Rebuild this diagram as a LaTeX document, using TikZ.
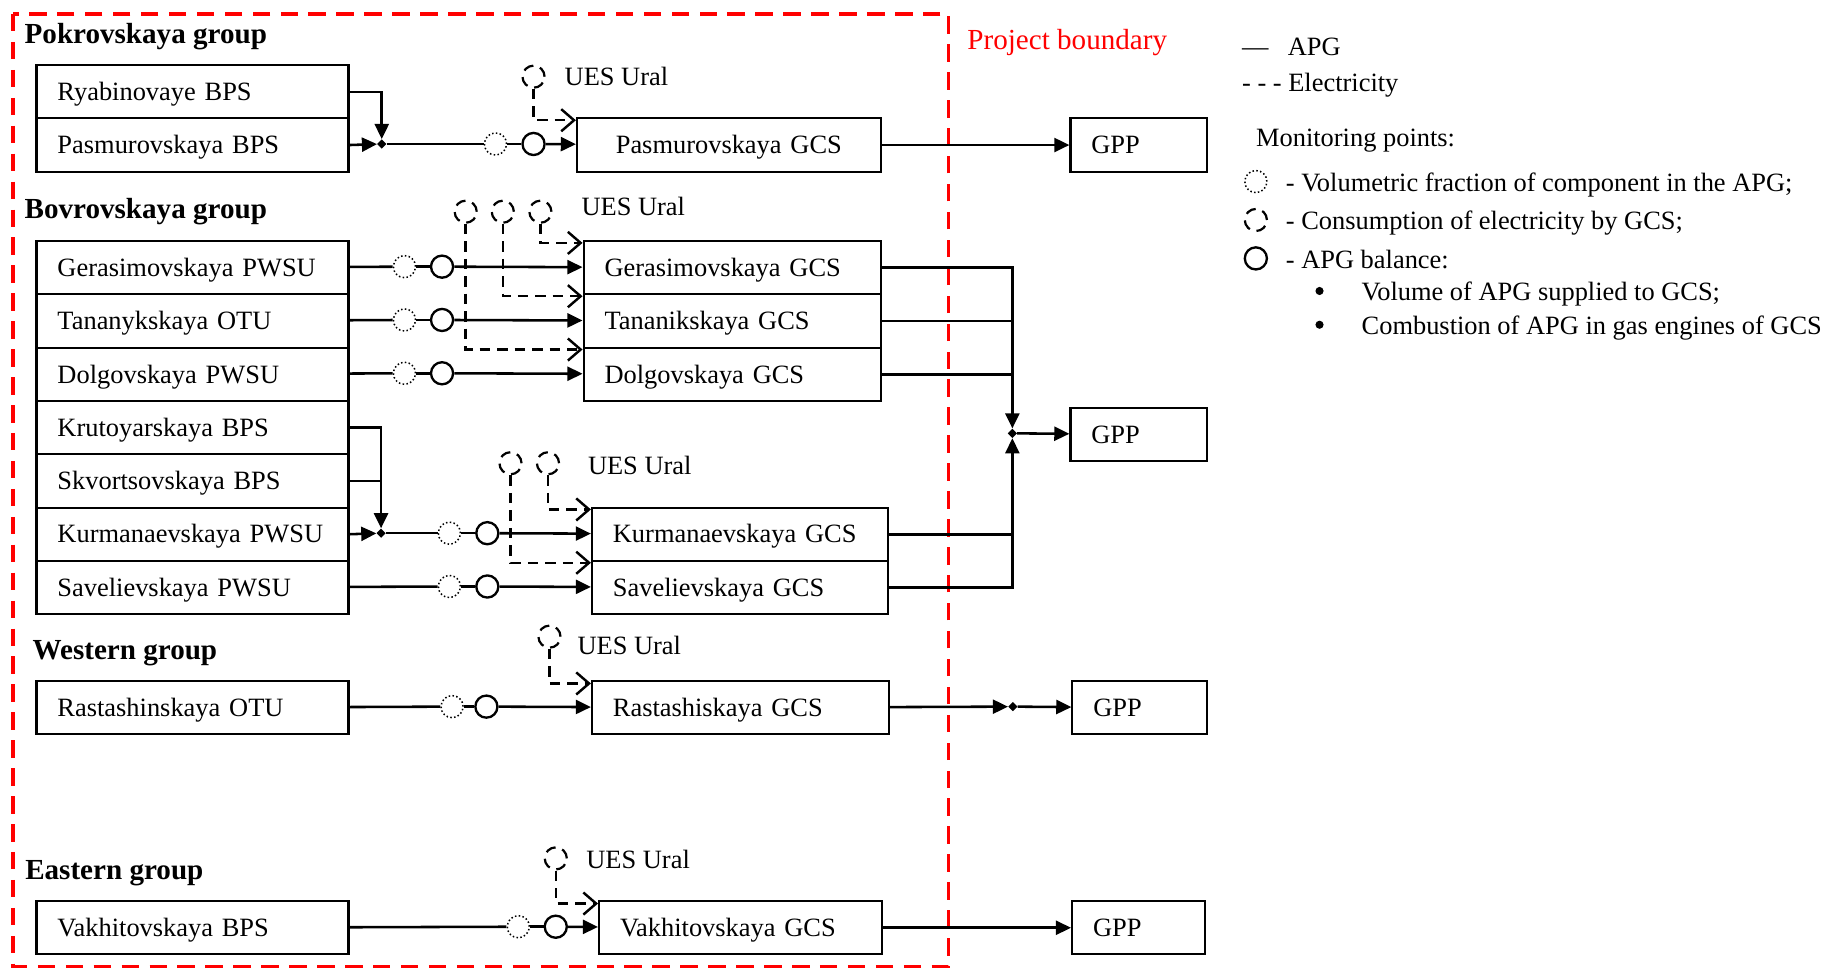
\documentclass[tikz,border=0pt]{standalone}
\usepackage{fontspec}
\setmainfont{Liberation Serif}
\usetikzlibrary{arrows.meta,shapes.geometric}

\begin{document}
\begin{tikzpicture}[x=1pt,y=-1pt,
  font=\fontsize{22.7}{27}\selectfont,
  box/.style={draw, line width=1.8pt, anchor=north west, inner xsep=18pt, inner ysep=0pt,
    align=left, minimum height=45.8pt, text height=20pt, text depth=5pt},
  lbox/.style={box, text width=232pt},
  label/.style={inner sep=0pt, anchor=west, text height=20pt, text depth=5pt},
  heading/.style={label, font=\fontsize{25}{30}\selectfont\bfseries},
  gas/.style={line width=2.2pt},
  gasarr/.style={gas, -{Triangle[length=13pt,width=12pt]}},
  elec/.style={line width=2.1pt, dash pattern=on 9pt off 6pt,
    -{Straight Barb[length=11pt,width=19pt,line width=2.1pt]}},
  dotc/.style={circle, draw, line width=1.3pt, dash pattern=on 1.3pt off 2pt,
    minimum size=19pt, inner sep=0pt},
  solc/.style={circle, draw, line width=2pt, minimum size=19pt, inner sep=0pt},
  dashc/.style={circle, draw, line width=1.9pt, dash pattern=on 9pt off 6pt,
    minimum size=19pt, inner sep=0pt},
  junc/.style={diamond, fill=black, inner sep=0pt, minimum size=8pt},
  boundary/.style={draw=red, line width=3pt, dash pattern=on 15pt off 9pt}
]
\useasboundingbox (0,0) rectangle (1568,833);

% project boundary
\draw[boundary] (11,12) rectangle (815,830.5);
\node[label, text=red, font=\fontsize{25}{30}\selectfont] (pb) at (831,35) {Project boundary};

% ---------------- Pokrovskaya group ----------------
\node[heading] (hpok) at (21,29.5) {Pokrovskaya group};
\node[lbox, minimum height=45.5pt] (ryab) at (30.5,55.3) {Ryabinovaye BPS};
\node[lbox] (pasb) at (30.5,100.8) {Pasmurovskaya BPS};
\node[box, text width=225pt, align=center] (pasg) at (494.8,100.8) {Pasmurovskaya GCS};
\node[box, text width=81.5pt] (gpp1) at (918.8,100.8) {GPP};
\node[junc] (jp) at (328,123.7) {};
\node[dotc] (dp) at (425.7,123.7) {};
\node[solc] (sp) at (458.4,123.7) {};
\node[dashc] (up) at (458.4,65.9) {};
\node[label] (tp) at (485,66) {UES Ural};
\draw[gasarr] (ryab.east) -| (jp);
\draw[gasarr] (pasb.east) -- (jp);
\draw[gas] (jp) -- (dp);
\draw[gas] (dp) -- (sp);
\draw[gasarr] (sp) -- (pasg);
\draw[elec] (up) |- ([yshift=-2.5pt]pasg.north west);
\draw[gasarr] (pasg) -- (gpp1);

% ---------------- Bovrovskaya group ----------------
\node[heading] (hbov) at (21,180) {Bovrovskaya group};
\node[lbox] (gerp) at (30.5,206.2) {Gerasimovskaya PWSU};
\node[lbox] (tanp) at (30.5,252.0) {Tananykskaya OTU};
\node[lbox] (dolp) at (30.5,297.8) {Dolgovskaya PWSU};
\node[lbox] (krup) at (30.5,343.6) {Krutoyarskaya BPS};
\node[lbox] (skvp) at (30.5,389.4) {Skvortsovskaya BPS};
\node[lbox] (kurp) at (30.5,435.2) {Kurmanaevskaya PWSU};
\node[lbox] (savp) at (30.5,481.0) {Savelievskaya PWSU};

\node[box, text width=219.8pt] (gerg) at (500.5,206.2) {Gerasimovskaya GCS};
\node[box, text width=219.8pt] (tang) at (500.5,252.0) {Tananikskaya GCS};
\node[box, text width=219.8pt] (dolg) at (500.5,297.8) {Dolgovskaya GCS};

\node[dotc] (dg) at (347.5,229.1) {};
\node[solc] (sg) at (379.8,229.1) {};
\node[dotc] (dt) at (347.5,274.9) {};
\node[solc] (st) at (379.8,274.9) {};
\node[dotc] (dd) at (347.5,320.7) {};
\node[solc] (sd) at (379.8,320.7) {};

\node[dashc] (ub1) at (400.1,181.9) {};
\node[dashc] (ub2) at (432.0,181.9) {};
\node[dashc] (ub3) at (464.3,181.9) {};
\node[label] (tb) at (499.5,178) {UES Ural};

\draw[gas] (gerp) -- (dg);  \draw[gas] (dg) -- (sg);  \draw[gasarr] (sg) -- (gerg);
\draw[gas] (tanp) -- (dt);  \draw[gas] (dt) -- (st);  \draw[gasarr] (st) -- (tang);
\draw[gas] (dolp) -- (dd);  \draw[gas] (dd) -- (sd);  \draw[gasarr] (sd) -- (dolg);

\draw[elec] (ub3) |- ([yshift=-2.5pt]gerg.north west);
\draw[elec] (ub2) |- ([yshift=-2.5pt]tang.north west);
\draw[elec] (ub1) |- ([yshift=-2.5pt]dolg.north west);

% Kurmanaevskaya / Savelievskaya
\node[box, text width=218.3pt] (kurg) at (507.7,435.2) {Kurmanaevskaya GCS};
\node[box, text width=218.3pt] (savg) at (507.7,481.0) {Savelievskaya GCS};
\node[junc] (jk) at (327.4,458.1) {};
\node[dotc] (dk) at (386.1,458.1) {};
\node[solc] (sk) at (418.7,458.1) {};
\node[dotc] (ds) at (386.1,503.9) {};
\node[solc] (ss) at (418.7,503.9) {};
\node[dashc] (uk1) at (438.6,398) {};
\node[dashc] (uk2) at (470.8,398) {};
\node[label] (tk) at (505,400) {UES Ural};

\draw[gasarr] (krup.east) -| (jk);
\draw[gas] (skvp.east) -- (skvp.east -| jk);
\draw[gasarr] (kurp.east) -- (jk);
\draw[gas] (jk) -- (dk);  \draw[gas] (dk) -- (sk);  \draw[gasarr] (sk) -- (kurg);
\draw[gas] (savp) -- (ds); \draw[gas] (ds) -- (ss); \draw[gasarr] (ss) -- (savg);
\draw[elec] (uk2) |- ([yshift=-2.5pt]kurg.north west);
\draw[elec] (uk1) |- ([yshift=-2.5pt]savg.north west);

% collector to the gas processing plant
\node[box, text width=81.5pt] (gpp2) at (918.8,349.4) {GPP};
\node[junc] (jb) at (869.8,372.3) {};
\draw[gasarr] (gerg.east) -| (jb);
\draw[gas] (tang.east) -- (tang.east -| jb);
\draw[gas] (dolg.east) -- (dolg.east -| jb);
\draw[gas] (kurg.east) -- (kurg.east -| jb);
\draw[gasarr] (savg.east) -| (jb);
\draw[gasarr] (jb) -- (gpp2);

% ---------------- Western group ----------------
\node[heading] (hwes) at (27.8,559.5) {Western group};
\node[lbox] (rasp) at (30.5,584.2) {Rastashinskaya OTU};
\node[box, text width=219.3pt] (rasg) at (507.7,584.2) {Rastashiskaya GCS};
\node[box, text width=79.5pt] (gpp3) at (920.5,584.2) {GPP};
\node[dotc] (dw) at (388.4,607.1) {};
\node[solc] (sw) at (417.9,607.1) {};
\node[dashc] (uw) at (472.1,547) {};
\node[label] (tw) at (496,555) {UES Ural};
\node[junc] (jw) at (870.2,607.1) {};
\draw[gas] (rasp) -- (dw);  \draw[gas] (dw) -- (sw);  \draw[gasarr] (sw) -- (rasg);
\draw[elec] (uw) |- ([yshift=-3pt]rasg.north west);
\draw[gasarr] (rasg) -- (jw);
\draw[gasarr] (jw) -- (gpp3);

% ---------------- Eastern group ----------------
\node[heading] (heas) at (21.5,748.5) {Eastern group};
\node[lbox] (vakp) at (30.5,773.3) {Vakhitovskaya BPS};
\node[box, text width=207.3pt] (vakg) at (513.8,773.3) {Vakhitovskaya GCS};
\node[box, text width=78.4pt] (gpp4) at (920.2,773.3) {GPP};
\node[dotc] (de) at (445.3,796.2) {};
\node[solc] (se) at (477.5,796.2) {};
\node[dashc] (ue) at (477.5,737.5) {};
\node[label] (te) at (503.6,739) {UES Ural};
\draw[gas] (vakp) -- (de);  \draw[gas] (de) -- (se);  \draw[gasarr] (se) -- (vakg);
\draw[elec] (ue) |- ([yshift=-3pt]vakg.north west);
\draw[gasarr] (vakg) -- (gpp4);

% ---------------- Legend ----------------
\node[label] (lg1) at (1067,40) {—};
\node[label] (lg1t) at (1106.3,40) {APG};
\node[label] (lg2) at (1067,71.5) {- - - Electricity};
\node[label] (lg3) at (1079,118.5) {Monitoring points:};
\node[dotc] (lc1) at (1079,156) {};
\node[label] (lt1) at (1104.6,157) {- Volumetric fraction of component in the APG;};
\node[dashc] (lc2) at (1079,189) {};
\node[label] (lt2) at (1104.6,190) {- Consumption of electricity by GCS;};
\node[solc] (lc3) at (1079,222) {};
\node[label] (lt3) at (1104.6,223) {- APG balance:};
\node[circle, fill=black, inner sep=0pt, minimum size=7pt] (lb1) at (1133.7,250) {};
\node[label] (lbt1) at (1169.7,251) {Volume of APG supplied to GCS;};
\node[circle, fill=black, inner sep=0pt, minimum size=7pt] (lb2) at (1133.7,279) {};
\node[label] (lbt2) at (1169.7,280) {Combustion of APG in gas engines of GCS};
\end{tikzpicture}
\end{document}
